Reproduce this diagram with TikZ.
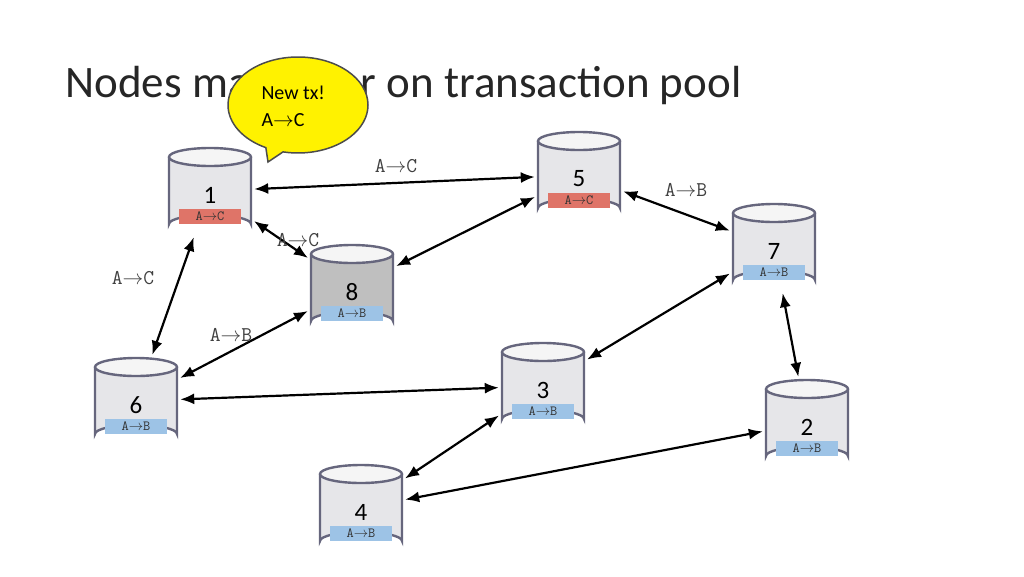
\documentclass[tikz,border=0pt]{standalone}
\usepackage{fontspec}
\setmainfont{Carlito}
\usetikzlibrary{shapes.callouts,arrows.meta}
\begin{document}
\begin{tikzpicture}[x=1pt,y=-1pt,
  lk/.style={{Latex[length=14pt,width=11pt]}-{Latex[length=14pt,width=11pt]},line width=2.2pt,shorten <=1pt,shorten >=1pt},
  lab/.style={font=\ttfamily\fontsize{21}{21}\selectfont,text=black!75},
  box/.style={draw=none,minimum width=86pt,minimum height=90pt,inner sep=0pt}]
\useasboundingbox (0,0) rectangle (1024,576);
\node[anchor=base west,font=\fontsize{45}{45}\selectfont,text=black!85] (title) at (62,97) {Nodes may differ on transaction pool};
\colorlet{edge}{black!55!blue!20!gray}
\newcommand{\mycyl}[7]{%
  \fill[#6] (#2-41,#3+9) -- (#2-41,#3+76) arc[start angle=180,end angle=360,x radius=41,y radius=9] -- (#2+41,#3+9) arc[start angle=0,end angle=180,x radius=41,y radius=9] -- cycle;
  \draw[line width=2.4pt,draw=edge] (#2-41,#3+9) -- (#2-41,#3+76) arc[start angle=180,end angle=360,x radius=41,y radius=9] -- (#2+41,#3+9);
  \draw[line width=2.4pt,draw=edge,fill=white!92!gray] (#2,#3+9) ellipse[x radius=41,y radius=9];
  \node[box] (#1) at (#2,#3+43) {};
  \node[font=\fontsize{25}{25}\selectfont] (#1n) at (#2,#3+47) {#4};
  \fill[#7] (#2-31,#3+61) rectangle (#2+31,#3+76);
  \node[font=\ttfamily\fontsize{14}{14}\selectfont,text=black!80] (#1l) at (#2,#3+68) {#5};}
\definecolor{cb}{HTML}{E6E6E9}
\definecolor{red1}{HTML}{DF7468}
\definecolor{blu1}{HTML}{9DC3E6}
\mycyl{n1}{210}{148}{1}{A$\rightarrow$C}{cb}{red1}
\mycyl{n5}{579}{132}{5}{A$\rightarrow$C}{cb}{red1}
\mycyl{n7}{774}{204}{7}{A$\rightarrow$B}{cb}{blu1}
\mycyl{n8}{352}{245}{8}{A$\rightarrow$B}{black!25}{blu1}
\mycyl{n6}{136}{358}{6}{A$\rightarrow$B}{cb}{blu1}
\mycyl{n3}{543}{343}{3}{A$\rightarrow$B}{cb}{blu1}
\mycyl{n2}{807}{380}{2}{A$\rightarrow$B}{cb}{blu1}
\mycyl{n4}{361}{465}{4}{A$\rightarrow$B}{cb}{blu1}
\draw[lk] (n1) -- (n5);
\draw[lk] (n1) -- (n8);
\draw[lk] (n1) -- (n6);
\draw[lk] (n5) -- (n8);
\draw[lk] (n5) -- (n7);
\draw[lk] (n7) -- (n3);
\draw[lk] (n7) -- (n2);
\draw[lk] (n8) -- (n6);
\draw[lk] (n6) -- (n3);
\draw[lk] (n3) -- (n4);
\draw[lk] (n4) -- (n2);
\node[lab] (l1) at (396,166) {A$\rightarrow$C};
\node[lab] (l2) at (686,190) {A$\rightarrow$B};
\node[lab] (l3) at (298,240) {A$\rightarrow$C};
\node[lab] (l4) at (133,278) {A$\rightarrow$C};
\node[lab] (l5) at (231,335) {A$\rightarrow$B};
\node[ellipse callout,draw=black!70,line width=1.5pt,fill=yellow,minimum width=140pt,minimum height=96pt,callout absolute pointer={(268,162)}] (co) at (298,105) {};
\node[anchor=base west,font=\fontsize{20}{20}\selectfont] (t1) at (258,99) {New tx!};
\node[anchor=base west,font=\fontsize{20}{20}\selectfont] (t2) at (258,126) {A$\rightarrow$C};
\end{tikzpicture}
\end{document}
